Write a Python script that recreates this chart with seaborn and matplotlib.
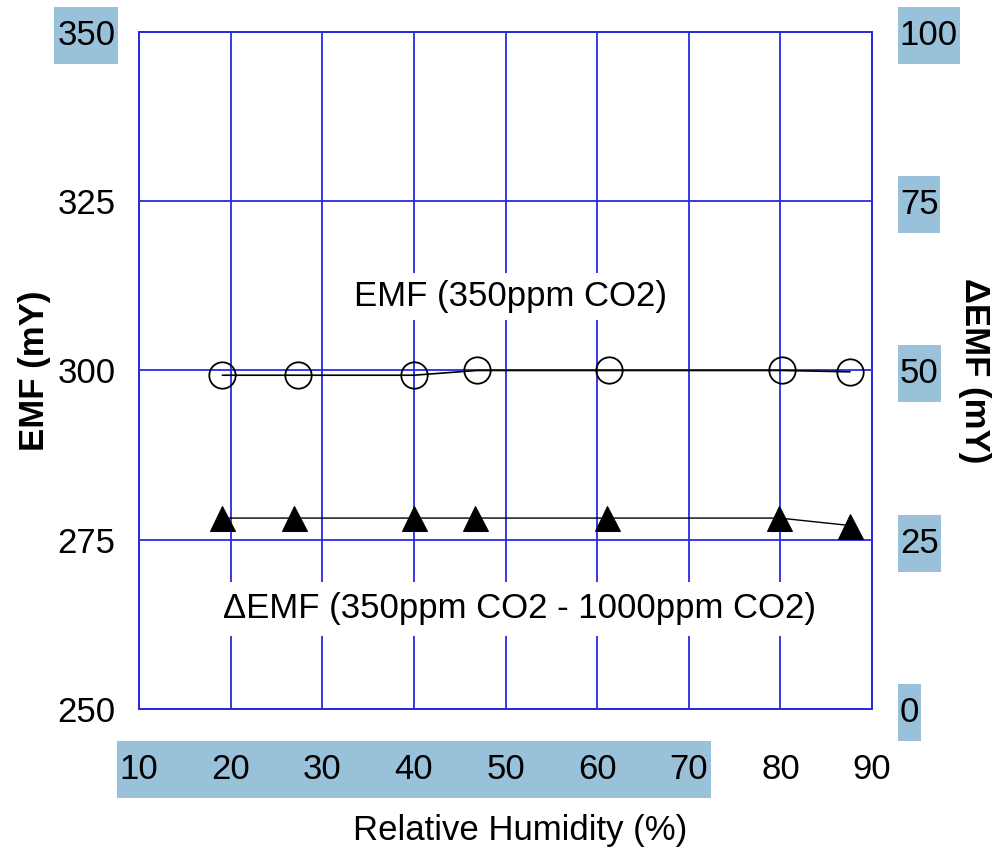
import numpy as np
import pandas as pd
import seaborn as sns
import matplotlib.pyplot as plt
from matplotlib.patches import Rectangle
from matplotlib.transforms import IdentityTransform

# Données
rh_emf = [19.1, 27.3, 40.0, 46.9, 61.3, 80.2, 87.6]
emf = [299.3, 299.3, 299.3, 300.0, 300.0, 300.0, 299.8]
rh_delta = [19.1, 26.9, 40.0, 46.7, 61.1, 79.9, 87.6]
delta_emf = [28.2, 28.2, 28.2, 28.2, 28.2, 28.2, 27.1]

x_ticks = [10, 20, 30, 40, 50, 60, 70, 80, 90]
y_ticks = [250, 275, 300, 325, 350]
y2_ticks = [0, 25, 50, 75, 100]

grid_blue = "#2a2ae6"
hl_blue = "#99c2da"

sns.set_style("white")
plt.rcParams['font.family'] = ['Liberation Sans', 'DejaVu Sans']
plt.rcParams['font.size'] = 25
plt.rcParams['text.color'] = 'black'
plt.rcParams['axes.labelcolor'] = 'black'
plt.rcParams['xtick.color'] = 'black'
plt.rcParams['ytick.color'] = 'black'

fig = plt.figure(figsize=(10.08, 8.5), dpi=100)
ax = fig.add_axes([0.1379, 0.1659, 0.7272, 0.7965])
ax2 = ax.twinx()

df1 = pd.DataFrame({"rh": rh_emf, "emf": emf})
df2 = pd.DataFrame({"rh": rh_delta, "d": delta_emf})

sns.lineplot(data=df1, x="rh", y="emf", ax=ax, color="black", lw=1.2,
             marker="o", markersize=19, markerfacecolor="none",
             markeredgecolor="black", markeredgewidth=1.3, zorder=5)
sns.lineplot(data=df2, x="rh", y="d", ax=ax2, color="black", lw=1.0,
             marker="^", markersize=18, markerfacecolor="black",
             markeredgecolor="black", zorder=5)

ax.set_xlim(10, 90)
ax.set_ylim(250, 350)
ax2.set_ylim(0, 100)
ax.set_xticks(x_ticks)
ax.set_yticks(y_ticks)
ax2.set_yticks(y2_ticks)

ax.grid(True, color=grid_blue, lw=1.3)
ax.set_axisbelow(True)
ax2.grid(False)
for a in (ax, ax2):
    for s in a.spines.values():
        s.set_color(grid_blue)
        s.set_linewidth(1.3)
ax.tick_params(axis="both", length=0, labelsize=25, labelcolor="black")
ax.tick_params(axis="x", pad=32)
ax.tick_params(axis="y", pad=17)
ax2.tick_params(axis="y", length=0, labelsize=25, pad=20, labelcolor="black")

ax.set_xlabel("Relative Humidity (%)", fontsize=25, color="black")
ax.xaxis.set_label_coords(0.52, -0.155)
ax.set_ylabel("EMF (mY)", fontsize=25, fontweight="bold", color="black")
ax.yaxis.set_label_coords(-0.12, 0.5)
ax2.set_ylabel("\u0394EMF (mY)", fontsize=25, fontweight="bold",
               rotation=270, va="center", color="black")
ax2.yaxis.set_label_coords(1.14, 0.5)

ax.text(50.5, 310.9, "EMF (350ppm CO2)", ha="center", va="center",
        fontsize=25, zorder=3, color="black",
        bbox=dict(boxstyle="square,pad=0.2", fc="white", ec="none"))
ax.text(51.5, 264.8, "\u0394EMF (350ppm CO2 - 1000ppm CO2)", ha="center",
        va="center", fontsize=25, zorder=3, color="black",
        bbox=dict(boxstyle="square,pad=0.3", fc="white", ec="none"))

# Surlignage des étiquettes (boîtes bleu clair)
fig.canvas.draw()
r = fig.canvas.get_renderer()


def highlight(labels, px=3, py=12):
    boxes = [t.get_window_extent(r) for t in labels]
    x0 = min(b.x0 for b in boxes) - px
    x1 = max(b.x1 for b in boxes) + px
    y0 = min(b.y0 for b in boxes) - py
    y1 = max(b.y1 for b in boxes) + py
    fig.patches.append(Rectangle((x0, y0), x1 - x0, y1 - y0, fc=hl_blue,
                                 ec="none", transform=IdentityTransform(),
                                 zorder=-1, figure=fig))


xl = ax.get_xticklabels()
highlight([t for t in xl if t.get_text() in ["10", "20", "30", "40", "50", "60", "70"]])
for t in ax.get_yticklabels():
    if t.get_text() == "350":
        highlight([t])
for t in ax2.get_yticklabels():
    highlight([t], px=2)

fig.savefig("out.png", dpi=100)
